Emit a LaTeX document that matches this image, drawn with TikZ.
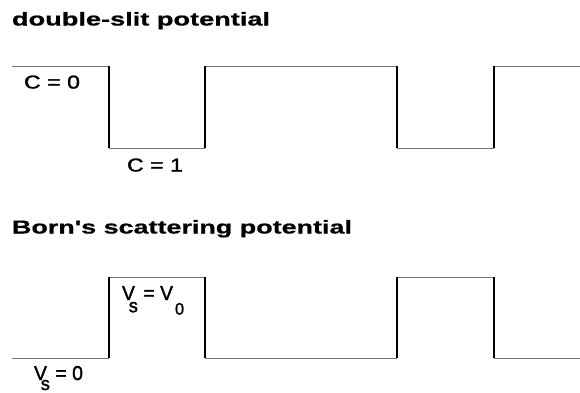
\documentclass[tikz,border=0pt]{standalone}
\usepackage{fontspec}
\setmainfont{Liberation Sans}
\newfontfamily\titlefont[FakeBold=0.6]{Liberation Sans Bold}
\newfontfamily\lblfont[FakeBold=1.5]{Liberation Sans}
\begin{document}
\begin{tikzpicture}[x=1pt,y=-1pt,
  hline/.style={draw=black!55,line width=1pt},
  vline/.style={draw=black,line width=2pt},
  txt/.style={anchor=base west,inner sep=0pt,outer sep=0pt}]
\fill[white] (0,0) rectangle (580,392);
\useasboundingbox (0,0) rectangle (580,392);
\newcommand{\lbl}[1]{\lblfont\fontsize{17}{17}\selectfont #1}
\newcommand{\subsS}[1]{\kern-0.32em\raisebox{-#1}{\fontsize{16}{16}\selectfont s}}
% titles
\node[txt] (t1) at (12,25.5) {\resizebox{258pt}{13.5pt}{\titlefont double-slit potential}};
\node[txt] (t2) at (12,233.5) {\resizebox{340pt}{13.5pt}{\titlefont Born's scattering potential}};
% double-slit profile
\coordinate (a0) at (12,66);
\coordinate (a1) at (109,66);
\coordinate (a2) at (109,148);
\coordinate (a3) at (205,148);
\coordinate (a4) at (205,66);
\coordinate (a5) at (397,66);
\coordinate (a6) at (397,148);
\coordinate (a7) at (494,148);
\coordinate (a8) at (494,66);
\coordinate (a9) at (580,66);
\draw[hline] (a0) -- (a1);
\draw[hline] (a2) -- (a3);
\draw[hline] (a4) -- (a5);
\draw[hline] (a6) -- (a7);
\draw[hline] (a8) -- (a9);
\draw[vline] (a1) -- (a2);
\draw[vline] (a3) -- (a4);
\draw[vline] (a5) -- (a6);
\draw[vline] (a7) -- (a8);
% Born profile
\coordinate (b0) at (12,358);
\coordinate (b1) at (109,358);
\coordinate (b2) at (109,277);
\coordinate (b3) at (205,277);
\coordinate (b4) at (205,358);
\coordinate (b5) at (397,358);
\coordinate (b6) at (397,277);
\coordinate (b7) at (494,277);
\coordinate (b8) at (494,358);
\coordinate (b9) at (580,358);
\draw[hline] (b0) -- (b1);
\draw[hline] (b2) -- (b3);
\draw[hline] (b4) -- (b5);
\draw[hline] (b6) -- (b7);
\draw[hline] (b8) -- (b9);
\draw[vline] (b1) -- (b2);
\draw[vline] (b3) -- (b4);
\draw[vline] (b5) -- (b6);
\draw[vline] (b7) -- (b8);
% labels
\node[txt] (c0) at (24,88.5) {\resizebox{56pt}{13pt}{\lbl{C = 0}}};
\node[txt] (c1) at (127,171.5) {\resizebox{56pt}{13pt}{\lbl{C = 1}}};
\node[txt] (v1) at (122,300) {\resizebox{62pt}{14pt}{\lbl{V\subsS{0.6em} = V\kern0.1em\raisebox{-0.72em}{\fontsize{14}{14}\selectfont 0}}}};
\node[txt] (v2) at (34,380) {\resizebox{49pt}{14pt}{\lbl{V\subsS{0.5em} = 0}}};
\end{tikzpicture}
\end{document}
